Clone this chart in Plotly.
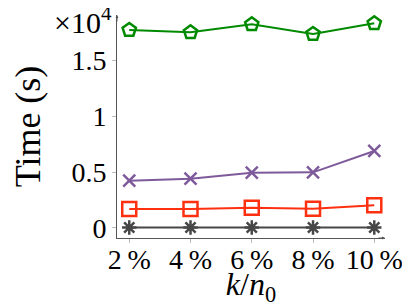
import plotly.graph_objects as go

x_vals = [2, 4, 6, 8, 10]
x_labels = ["2\u2009%", "4\u2009%", "6\u2009%", "8\u2009%", "10\u2009%"]
green = [17750, 17540, 18260, 17390, 18350]
purple = [4220, 4400, 4940, 4970, 6890]
red = [1680, 1680, 1800, 1710, 2010]
gray = [20, 20, 20, 20, 20]
y_ticks = [0, 5000, 10000, 15000]
y_labels = ["0", "0.5", "1", "1.5"]

series = [
    (green, "#008a00", "pentagon-open", 14),
    (purple, "#7e5a9b", "x-thin-open", 12),
    (red, "#ff3010", "square-open", 14),
    (gray, "#474747", "asterisk-open", 12),
]

fig = go.Figure()
for vals, col, sym, sz in series:
    fig.add_trace(go.Scatter(
        x=x_vals, y=vals, mode="lines+markers",
        line=dict(color=col, width=2),
        marker=dict(symbol=sym, size=sz, color=col, line=dict(color=col, width=2.5)),
        showlegend=False, cliponaxis=False,
    ))

font_family = "Liberation Serif, DejaVu Serif, serif"
fig.update_layout(
    width=402, height=299,
    margin=dict(l=109, r=25, t=7, b=69, autoexpand=False),
    plot_bgcolor="white", paper_bgcolor="white",
    font=dict(family=font_family, color="black", size=28),
    xaxis=dict(
        range=[1.6, 10.35], tickvals=x_vals, ticktext=x_labels,
        showline=True, linecolor="#555", linewidth=1,
        ticks="outside", ticklen=4, tickcolor="#bbb",
        showgrid=False, zeroline=False, automargin=False,
        tickfont=dict(size=28), ticklabelstandoff=-8,
        title=dict(text="<i>k</i>/<i>n</i><sub>0</sub>", font=dict(size=32), standoff=3),
    ),
    yaxis=dict(
        range=[-925, 19094], tickvals=y_ticks, ticktext=y_labels,
        showline=True, linecolor="#555", linewidth=1,
        ticks="outside", ticklen=4, tickcolor="#bbb",
        showgrid=False, zeroline=False, automargin=False,
        tickfont=dict(size=28),
        title=dict(text="Time (s)", font=dict(size=36), standoff=20),
    ),
)

fig.add_annotation(xref="paper", yref="paper", x=1, y=0, ax=-8, ay=0,
                   axref="pixel", ayref="pixel", showarrow=True, arrowhead=2,
                   arrowsize=0.6, arrowwidth=1, arrowcolor="#555", text="")
fig.add_annotation(xref="paper", yref="paper", x=0, y=1, ax=0, ay=8,
                   axref="pixel", ayref="pixel", showarrow=True, arrowhead=2,
                   arrowsize=0.6, arrowwidth=1, arrowcolor="#555", text="")
fig.add_annotation(xref="paper", yref="paper", x=-0.01, y=1, xanchor="right",
                   yanchor="middle", yshift=-5, showarrow=False,
                   text="×10<sup>4</sup>", font=dict(size=30))

fig.write_html("out.html")
